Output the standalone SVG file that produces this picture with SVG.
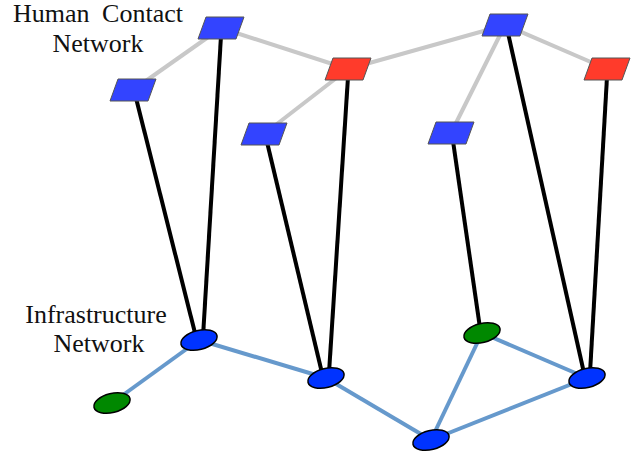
<svg xmlns="http://www.w3.org/2000/svg" width="634" height="460" viewBox="0 0 634 460">
<style>
.lbl{font-size:26px;fill:#111;text-anchor:middle}
.hc{stroke:#c8c8c8;stroke-width:4;fill:none}
.map{stroke:#000;stroke-width:4;fill:none}
.inf{stroke:#6699cc;stroke-width:4;fill:none}
.pb{fill:#3344ff;stroke:#555;stroke-width:1}
.pr{fill:#ff3b2b;stroke:#555;stroke-width:1}
.eb{fill:#0033ff;stroke:#000;stroke-width:1.5}
.eg{fill:#008800;stroke:#000;stroke-width:1.5}
</style>
<defs>
<polygon id="para" points="-15,-11 23,-11 15,11 -23,11"/>
<ellipse id="ell" cx="0" cy="0" rx="18.5" ry="9.5" transform="rotate(-14)"/>
</defs>
<g id="connectors">
<g id="contact-edges">
<line class="hc" x1="133" y1="90" x2="221" y2="28"/>
<line class="hc" x1="221" y1="28" x2="348" y2="69"/>
<line class="hc" x1="348" y1="69" x2="264" y2="134"/>
<line class="hc" x1="348" y1="69" x2="505" y2="25"/>
<line class="hc" x1="505" y1="25" x2="451" y2="133"/>
<line class="hc" x1="505" y1="25" x2="607" y2="69"/>
</g>
<g id="infra-edges">
<line class="inf" x1="112" y1="403" x2="199" y2="340"/>
<line class="inf" x1="199" y1="340" x2="326" y2="378"/>
<line class="inf" x1="326" y1="378" x2="431" y2="440"/>
<line class="inf" x1="431" y1="440" x2="482" y2="333"/>
<line class="inf" x1="482" y1="333" x2="587" y2="378"/>
<line class="inf" x1="431" y1="440" x2="587" y2="378"/>
</g>
<g id="mapping-edges">
<line class="map" x1="136" y1="98" x2="196" y2="337"/>
<line class="map" x1="221" y1="36" x2="203" y2="337"/>
<line class="map" x1="267" y1="142" x2="322" y2="373"/>
<line class="map" x1="348" y1="77" x2="329" y2="373"/>
<line class="map" x1="453" y1="141" x2="480" y2="328"/>
<line class="map" x1="508" y1="33" x2="584" y2="373"/>
<line class="map" x1="607" y1="77" x2="590" y2="373"/>
</g>
</g>
<g id="h1"><use href="#para" class="pb" transform="translate(221,28)"/></g>
<g id="h2"><use href="#para" class="pb" transform="translate(133,90)"/></g>
<g id="h3"><use href="#para" class="pr" transform="translate(348,69)"/></g>
<g id="h4"><use href="#para" class="pb" transform="translate(264,134)"/></g>
<g id="h5"><use href="#para" class="pb" transform="translate(505,25)"/></g>
<g id="h6"><use href="#para" class="pr" transform="translate(607,69)"/></g>
<g id="h7"><use href="#para" class="pb" transform="translate(451,133)"/></g>
<g id="i1"><use href="#ell" class="eb" transform="translate(199,340)"/></g>
<g id="i2"><use href="#ell" class="eb" transform="translate(326,378)"/></g>
<g id="i3"><use href="#ell" class="eg" transform="translate(112,403)"/></g>
<g id="i4"><use href="#ell" class="eg" transform="translate(482,333)"/></g>
<g id="i5"><use href="#ell" class="eb" transform="translate(587,378)"/></g>
<g id="i6"><use href="#ell" class="eb" transform="translate(431,440)"/></g>
<g id="labels">
<text class="lbl" font-family="Liberation Serif, Times New Roman, serif" x="98" y="22" word-spacing="6">Human Contact</text>
<text class="lbl" font-family="Liberation Serif, Times New Roman, serif" x="98" y="52">Network</text>
<text class="lbl" font-family="Liberation Serif, Times New Roman, serif" x="96" y="323">Infrastructure</text>
<text class="lbl" font-family="Liberation Serif, Times New Roman, serif" x="99" y="352">Network</text>
</g>
</svg>
